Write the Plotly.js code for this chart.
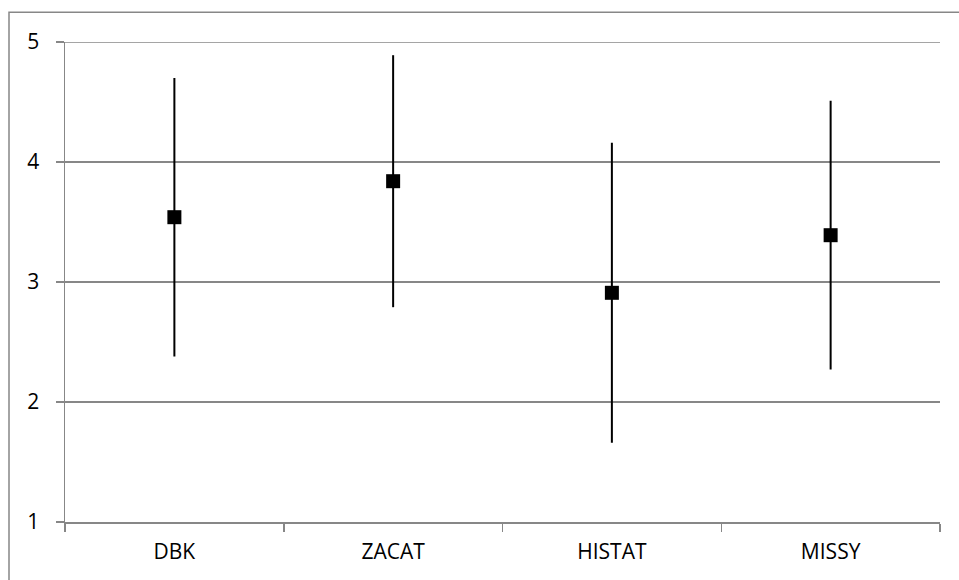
<!DOCTYPE html>
<html>
<head>
<meta charset="utf-8">
<script src="https://cdn.plot.ly/plotly-3.0.1.min.js"></script>
<style>
  html, body { margin: 0; padding: 0; background: #fff; }
  #chart { width: 959px; height: 580px; }
</style>
</head>
<body>
<div id="chart"></div>
<script>
const categories = ["DBK", "ZACAT", "HISTAT", "MISSY"];
const means = [3.54, 3.84, 2.91, 3.39];
const errors = [1.16, 1.05, 1.25, 1.12];
const yTicks = [1, 2, 3, 4, 5];

const gridColor = "#878787";
const fontFamily = "'Open Sans', 'Liberation Sans', sans-serif";

const trace = {
  type: "scatter",
  mode: "markers",
  x: categories,
  y: means,
  marker: { symbol: "square", size: 14, color: "#000000" },
  error_y: { type: "data", array: errors, visible: true, color: "#000000", thickness: 2, width: 0 },
  showlegend: false,
  hoverinfo: "x+y"
};

const layout = {
  width: 959,
  height: 580,
  margin: { l: 65, r: 19, t: 42, b: 58 },
  paper_bgcolor: "#ffffff",
  plot_bgcolor: "#ffffff",
  font: { family: fontFamily, size: 21, color: "#000000" },
  xaxis: {
    type: "category",
    range: [-0.5, 3.5],
    showgrid: false,
    showline: true,
    linecolor: gridColor,
    linewidth: 1.5,
    ticks: "outside",
    tickson: "boundaries",
    ticklen: 8,
    tickwidth: 1.5,
    tickcolor: gridColor,
    ticklabelstandoff: 10,
    zeroline: false,
    fixedrange: true
  },
  yaxis: {
    range: [1, 5],
    tickvals: yTicks,
    ticktext: yTicks.map(String),
    showgrid: true,
    gridcolor: gridColor,
    gridwidth: 1.5,
    showline: true,
    linecolor: gridColor,
    linewidth: 1.5,
    ticks: "outside",
    ticklen: 8,
    tickwidth: 1.5,
    tickcolor: gridColor,
    ticklabelstandoff: 12,
    zeroline: false,
    fixedrange: true
  },
  shapes: [
    {
      type: "rect",
      xref: "paper", yref: "paper",
      x0: -0.064, x1: 1.2,
      y0: -0.2, y1: 1.0619,
      line: { color: gridColor, width: 1.5 },
      fillcolor: "rgba(0,0,0,0)",
      layer: "below"
    },
    {
      type: "line",
      xref: "paper", yref: "y",
      x0: 0, x1: 1,
      y0: yTicks[yTicks.length - 1], y1: yTicks[yTicks.length - 1],
      line: { color: gridColor, width: 1.5 },
      layer: "below"
    }
  ]
};

Plotly.newPlot("chart", [trace], layout, { displayModeBar: false, staticPlot: true });
</script>
</body>
</html>
